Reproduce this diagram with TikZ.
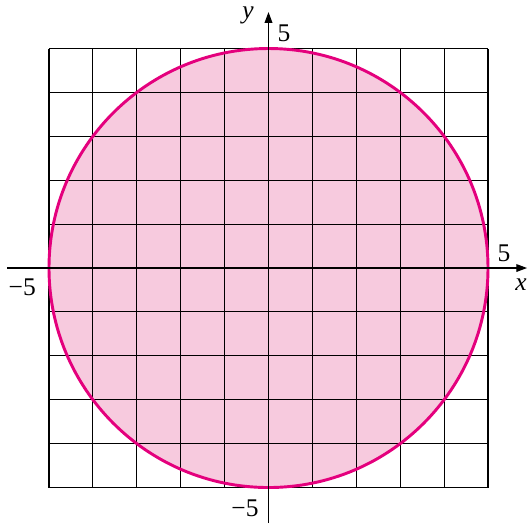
\documentclass[tikz,border=0pt]{standalone}
\usepackage{fontspec}
\setmainfont{Liberation Serif}
\usetikzlibrary{arrows.meta}
\definecolor{diskfill}{RGB}{247,202,222}
\definecolor{circ}{RGB}{228,0,125}
\tikzset{
  gridline/.style={black, line width=0.7pt},
  axisline/.style={black, line width=0.8pt, -{Triangle[length=7pt,width=5pt]}},
  lbl/.style={font=\fontsize{16.5}{18}\selectfont, inner sep=0pt},
}
\begin{document}
\begin{tikzpicture}
\useasboundingbox (-6.116,-5.809) rectangle (5.911,6.105);
\fill[diskfill] (0,0) circle (5);
\draw[gridline] (-5,-5) grid (5,5);
\draw[circ, line width=1.9pt] (0,0) circle (5);
\coordinate (xs) at (-5.95,0);
\coordinate (xe) at (5.89,0);
\coordinate (ys) at (0,-5.809);
\coordinate (ye) at (0,5.83);
\draw[axisline] (xs) -- (xe);
\draw[axisline] (ys) -- (ye);
\node[lbl] (ylab) at (-0.467,5.76) {\textit{y}};
\node[lbl] (ytop) at (0.353,5.35) {5};
\node[lbl] (xr) at (5.365,0.342) {5};
\node[lbl] (xlab) at (5.75,-0.387) {\textit{x}};
\node[lbl] (xl) at (-5.61,-0.433) {−5};
\node[lbl] (yb) at (-0.535,-5.467) {−5};
\end{tikzpicture}
\end{document}
